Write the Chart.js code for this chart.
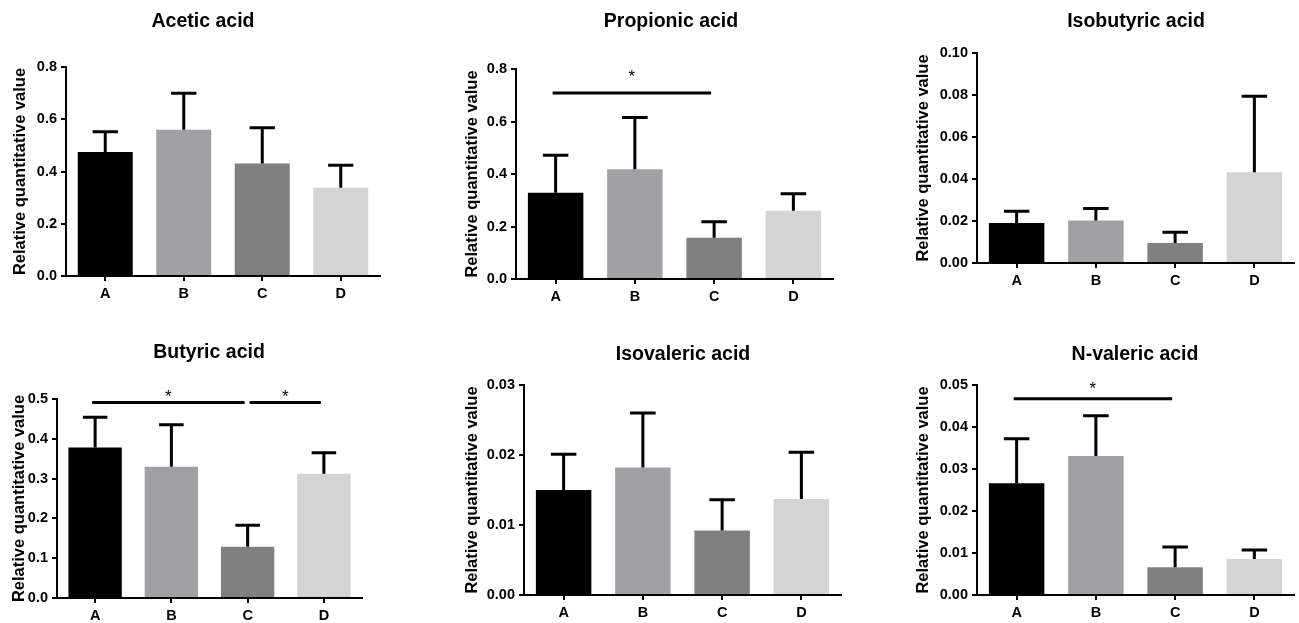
<!DOCTYPE html>
<html>
<head>
<meta charset="utf-8">
<title>Relative quantitative value of short-chain fatty acids</title>
<script src="https://cdn.jsdelivr.net/npm/chart.js@4.4.1/dist/chart.umd.min.js"></script>
<style>
  body { margin: 0; background: #fff; }
  #wrap { position: relative; width: 1299px; height: 623px; overflow: hidden; background: #fff; }
  #wrap canvas { position: absolute; }
</style>
</head>
<body>
<div id="wrap"></div>
<script>
const groups = ["A", "B", "C", "D"];
const barColors = ["#000000", "#a1a1a5", "#808080", "#d4d4d4"];
const yAxisTitle = "Relative quantitative value";

// group means and upper SD
const aceticMean = [0.475, 0.560, 0.431, 0.338];
const aceticSD = [0.077, 0.140, 0.136, 0.086];

const propionicMean = [0.329, 0.418, 0.157, 0.260];
const propionicSD = [0.142, 0.197, 0.061, 0.065];

const isobutyricMean = [0.0190, 0.0202, 0.0095, 0.0432];
const isobutyricSD = [0.0056, 0.0058, 0.0051, 0.0362];

const butyricMean = [0.378, 0.330, 0.129, 0.312];
const butyricSD = [0.076, 0.105, 0.054, 0.053];

const isovalericMean = [0.0150, 0.0182, 0.0092, 0.0137];
const isovalericSD = [0.0051, 0.0078, 0.0044, 0.0067];

const nvalericMean = [0.0266, 0.0331, 0.0066, 0.0086];
const nvalericSD = [0.0106, 0.0096, 0.0048, 0.0021];

// significance brackets: [from group, to group, line value, star value]
const propionicSig = [[0, 2, 0.709, 0.784]];
const butyricSig = [[0, 2, 0.491, 0.515], [2, 3, 0.491, 0.515]];
const nvalericSig = [[0, 2, 0.0467, 0.0500]];

const panels = [
  { title: "Acetic acid", mean: aceticMean, sd: aceticSD, sig: [], max: 0.8, step: 0.2, digits: 1,
    box: [0, 0, 433, 311], area: [66, 67, 380, 276], yTitleX: 20, titleAt: [203, 27] },
  { title: "Propionic acid", mean: propionicMean, sd: propionicSD, sig: propionicSig, max: 0.8, step: 0.2, digits: 1,
    box: [433, 0, 433, 311], area: [516, 69, 833, 279], yTitleX: 472, titleAt: [671, 27] },
  { title: "Isobutyric acid", mean: isobutyricMean, sd: isobutyricSD, sig: [], max: 0.1, step: 0.02, digits: 2,
    box: [866, 0, 433, 311], area: [977, 53, 1294, 263], yTitleX: 923, titleAt: [1136, 27] },
  { title: "Butyric acid", mean: butyricMean, sd: butyricSD, sig: butyricSig, max: 0.5, step: 0.1, digits: 1,
    box: [0, 311, 433, 312], area: [57, 399, 362, 598], yTitleX: 19, titleAt: [209, 358] },
  { title: "Isovaleric acid", mean: isovalericMean, sd: isovalericSD, sig: [], max: 0.03, step: 0.01, digits: 2,
    box: [433, 311, 433, 312], area: [524, 385, 841, 595], yTitleX: 472, titleAt: [683, 360] },
  { title: "N-valeric acid", mean: nvalericMean, sd: nvalericSD, sig: nvalericSig, max: 0.05, step: 0.01, digits: 2,
    box: [866, 311, 433, 312], area: [977, 385, 1294, 595], yTitleX: 923, titleAt: [1135, 360] }
];

const FONT = "'Liberation Sans', Arial, Helvetica, sans-serif";
Chart.defaults.font.family = FONT;
Chart.defaults.color = "#000";

const wrap = document.getElementById("wrap");

function makeChart(p) {
  const [bx, by, bw, bh] = p.box;
  const [L, T, R, B] = p.area;
  const canvas = document.createElement("canvas");
  canvas.width = bw;
  canvas.height = bh;
  canvas.style.left = bx + "px";
  canvas.style.top = by + "px";
  wrap.appendChild(canvas);

  const yTitleSize = 16.5;
  const yWidth = L - p.yTitleX + yTitleSize * 1.2 / 2;
  const xHeight = 24;

  // error bars, significance lines and the panel title
  const extras = {
    id: "extras",
    afterDatasetsDraw(chart) {
      const ctx = chart.ctx;
      const xs = chart.scales.x, ys = chart.scales.y;
      const bars = chart.getDatasetMeta(0).data;
      ctx.save();
      ctx.strokeStyle = "#000";
      ctx.fillStyle = "#000";
      ctx.lineWidth = 3;
      bars.forEach((bar, i) => {
        const top = ys.getPixelForValue(p.mean[i] + p.sd[i]);
        const cap = bar.width * 0.46;
        ctx.beginPath();
        ctx.moveTo(bar.x, bar.y);
        ctx.lineTo(bar.x, top);
        ctx.moveTo(bar.x - cap / 2, top);
        ctx.lineTo(bar.x + cap / 2, top);
        ctx.stroke();
      });
      p.sig.forEach(([from, to, lineVal, starVal]) => {
        // small gap where two brackets meet on the same group
        const x1 = xs.getPixelForValue(from) + (from === 0 ? -3 : 2);
        const x2 = xs.getPixelForValue(to) - 3;
        const ly = ys.getPixelForValue(lineVal);
        ctx.beginPath();
        ctx.moveTo(x1, ly);
        ctx.lineTo(x2, ly);
        ctx.stroke();
        ctx.font = "17px " + FONT;
        ctx.textAlign = "center";
        ctx.textBaseline = "alphabetic";
        ctx.fillText("*", (x1 + x2) / 2, ys.getPixelForValue(starVal) + 9);
      });
      ctx.font = "bold 19.5px " + FONT;
      ctx.textAlign = "center";
      ctx.textBaseline = "alphabetic";
      ctx.fillText(p.title, p.titleAt[0] - bx, p.titleAt[1] - by);
      ctx.restore();
    }
  };

  return new Chart(canvas, {
    type: "bar",
    data: {
      labels: groups,
      datasets: [{
        data: p.mean,
        backgroundColor: barColors,
        borderWidth: 0,
        barPercentage: 0.7,
        categoryPercentage: 1
      }]
    },
    options: {
      responsive: false,
      animation: false,
      devicePixelRatio: 1,
      layout: {
        padding: {
          left: L - bx - yWidth,
          right: bx + bw - R,
          top: T - by,
          bottom: by + bh - B - xHeight
        }
      },
      plugins: {
        legend: { display: false },
        tooltip: { enabled: false },
        title: { display: false }
      },
      scales: {
        x: {
          offset: true,
          afterFit: (scale) => { scale.height = xHeight; },
          grid: { display: true, offset: false, drawOnChartArea: false, tickLength: 5, lineWidth: 2, tickWidth: 2, tickColor: "#000" },
          border: { display: true, color: "#000", width: 2 },
          ticks: { font: { size: 14.5, weight: "bold" }, color: "#000", padding: 4 }
        },
        y: {
          min: 0,
          max: p.max,
          afterFit: (scale) => { scale.width = yWidth; },
          grid: { display: true, drawOnChartArea: false, tickLength: 5, lineWidth: 2, tickWidth: 2, tickColor: "#000" },
          border: { display: true, color: "#000", width: 2 },
          ticks: {
            stepSize: p.step,
            font: { size: 14.5, weight: "bold" },
            color: "#000",
            padding: 4,
            callback: (v) => Number(v).toFixed(p.digits)
          },
          title: {
            display: true,
            text: yAxisTitle,
            font: { size: yTitleSize, weight: "bold" },
            color: "#000",
            padding: 0
          }
        }
      }
    },
    plugins: [extras]
  });
}

panels.forEach(makeChart);
</script>
</body>
</html>
